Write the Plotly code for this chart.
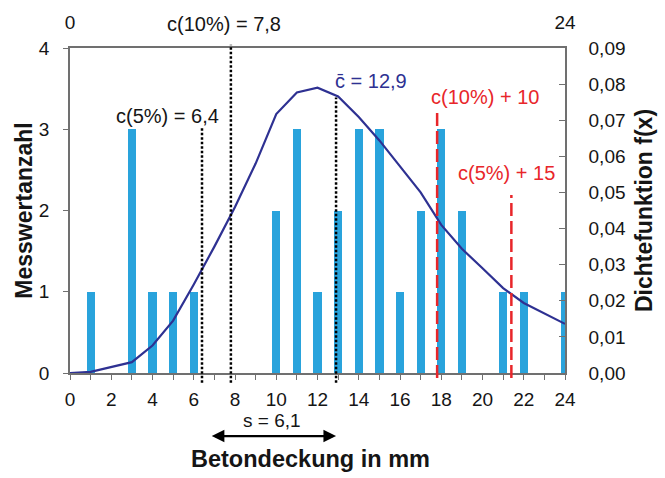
import plotly.graph_objects as go

# Data
bar_x = [1, 3, 4, 5, 6, 10, 11, 12, 13, 14, 15, 16, 17, 18, 19, 21, 22, 24]
bar_counts = [1, 3, 1, 1, 1, 2, 3, 1, 2, 3, 3, 1, 2, 3, 2, 1, 1, 1]

dens_x = [0, 1, 3, 4, 5, 6, 7, 8, 9, 10, 11, 12, 13, 14, 15, 16, 17, 18, 19, 20, 21, 22, 23, 24]
dens_y = [0.0, 0.0003, 0.003, 0.0076, 0.0145, 0.0245, 0.035, 0.046, 0.058, 0.0717, 0.0777, 0.079,
          0.0766, 0.0709, 0.0644, 0.0573, 0.050, 0.041, 0.0344, 0.029, 0.0235, 0.0194, 0.0166, 0.0136]

x_ticks = list(range(0, 25, 2))
top_ticks = [0, 24]

c5 = 6.4
c10 = 7.8
c_mean = 12.9
s = 6.1
c10_plus = c10 + 10
c5_plus = c5 + 15

BLUE = "#29a3dc"
NAVY = "#2e3192"
RED = "#e8262a"
AXC = "#707070"
TXT = "#151515"
FONT = "Liberation Sans, Arial, sans-serif"

fig = go.Figure()
fig.add_trace(go.Bar(x=bar_x, y=bar_counts, width=0.4, marker=dict(color=BLUE, line=dict(width=0)),
                     showlegend=False, yaxis="y", xaxis="x"))
fig.add_trace(go.Scatter(x=dens_x, y=dens_y, mode="lines", line=dict(color=NAVY, width=2.2),
                         showlegend=False, yaxis="y2", xaxis="x"))
# invisible trace to activate the top axis
fig.add_trace(go.Scatter(x=top_ticks, y=[None, None], xaxis="x2", yaxis="y", showlegend=False,
                         mode="lines", hoverinfo="skip"))

shapes = []
def vline(x, y0, y1, color, dash, width):
    shapes.append(dict(type="line", xref="x", yref="paper", x0=x, x1=x, y0=y0, y1=y1,
                       line=dict(color=color, dash=dash, width=width)))

DOT = "2.5px,2px"
DASH = "13px,5px"
vline(c10, -0.03, 1.01, "black", DOT, 2.5)
vline(c5, -0.03, 0.757, "black", DOT, 2.5)
vline(c_mean, -0.03, 0.848, "black", DOT, 2.5)
vline(c10_plus, -0.015, 0.806, RED, DASH, 2.5)
vline(c5_plus, -0.015, 0.548, RED, DASH, 2.5)

def label(text, x, y, color=TXT, size=20):
    return dict(text=text, x=x, y=y, xref="x", yref="paper", showarrow=False,
                xanchor="center", yanchor="middle", font=dict(size=size, color=color, family=FONT))

annotations = [
    label("c(10%) = 7,8", 7.45, 1.075),
    label("c(5%) = 6,4", 4.74, 0.79),
    label("c\u0304 = 12,9", 14.6, 0.897, NAVY),
    label("c(10%) + 10", 20.1, 0.85, RED),
    label("c(5%) + 15", 21.15, 0.615, RED),
    label("s = 6,1", 9.8, -0.146, TXT, 19),
    dict(text="", x=c_mean, y=-0.194, xref="x", yref="paper", ax=c_mean - s, ay=0,
         axref="x", ayref="pixel", showarrow=True, arrowhead=2, arrowside="end+start",
         arrowsize=1.15, arrowwidth=2.2, arrowcolor="black"),
    label("<b>Betondeckung in mm</b>", 11.65, -0.266, TXT, 23.5),
]

fig.update_layout(
    width=665, height=478,
    margin=dict(l=70, r=99, t=43, b=105),
    plot_bgcolor="white", paper_bgcolor="white",
    separators=",.",
    font=dict(family=FONT, size=19, color=TXT),
    shapes=shapes, annotations=annotations,
    bargap=0,
    xaxis=dict(range=[0, 24], tickvals=x_ticks, showline=True, linecolor=AXC,
               linewidth=1.5, ticks="outside", ticklen=5, tickcolor=AXC, showgrid=False,
               zeroline=False, minor=dict(ticks="outside", ticklen=5, tickcolor=AXC, dtick=1),
               tickfont=dict(size=19), ticklabelstandoff=3),
    xaxis2=dict(range=[0, 24], overlaying="x", side="top", tickvals=top_ticks, showline=True,
                linecolor=AXC, linewidth=1.5, ticks="", showgrid=False, zeroline=False,
                tickfont=dict(size=19), ticklabelstandoff=10),
    yaxis=dict(range=[0, 4], dtick=1, showline=True, linecolor=AXC, linewidth=1.5,
               ticks="outside", ticklen=5, tickcolor=AXC, showgrid=False, zeroline=False,
               ticklabelstandoff=10,
               title=dict(text="<b>Messwertanzahl</b>", font=dict(size=23), standoff=0),
               tickfont=dict(size=19)),
    yaxis2=dict(range=[0, 0.09], dtick=0.01, tickformat=".2f", overlaying="y", side="right",
                showline=True, linecolor=AXC, linewidth=1.5, ticks="inside", ticklen=6,
                tickcolor=AXC, showgrid=False, zeroline=False, ticklabelstandoff=18,
                title=dict(text="<b>Dichtefunktion f(x)</b>", font=dict(size=23), standoff=11),
                tickfont=dict(size=19)),
)

fig.write_html("out.html")
